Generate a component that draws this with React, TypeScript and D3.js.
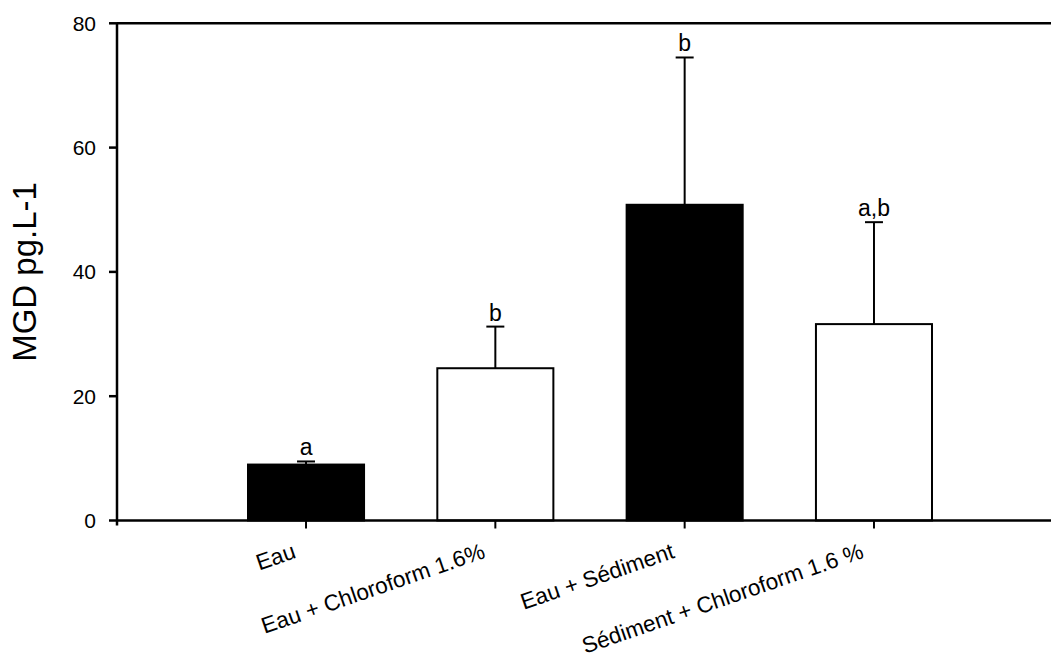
import React from "react";
import * as d3 from "d3";

const categories = ["Eau", "Eau + Chloroform 1.6%", "Eau + Sédiment", "Sédiment + Chloroform 1.6 %"];
const means = [9.0, 24.5, 50.8, 31.6];
const errors = [0.5, 6.7, 23.7, 16.4];
const fills = ["#000", "#fff", "#000", "#fff"];
const letters = ["a", "b", "b", "a,b"];
const yTicks = [0, 20, 40, 60, 80];
const yLabel = "MGD pg.L-1";

const W = 1051;
const H = 662;
const FONT = "Arial, 'Liberation Sans', Helvetica, sans-serif";

export default function App() {
  const x = d3.scaleBand<string>().domain(categories).range([117, 1063]).paddingInner(0.387).paddingOuter(0.692);
  const y = d3.scaleLinear().domain([0, 80]).range([520.5, 23.3]);
  const bw = x.bandwidth();
  const x0 = 117;
  const y0 = y(0);
  const capW = 18;
  return (
    <svg width={W} height={H} style={{ position: "absolute", left: 0, top: 0, background: "#fff" }} fontFamily={FONT}>
      <rect x={0} y={0} width={W} height={H} fill="#fff" />
      {categories.map((c, i) => {
        const bx = x(c)!;
        const cx = bx + bw / 2;
        const top = y(means[i]);
        const et = y(means[i] + errors[i]);
        return (
          <g key={c}>
            <rect x={bx} y={top} width={bw} height={y0 - top} fill={fills[i]} stroke="#000" strokeWidth={2} />
            <line x1={cx} x2={cx} y1={top} y2={et} stroke="#000" strokeWidth={2} />
            <line x1={cx - capW / 2} x2={cx + capW / 2} y1={et} y2={et} stroke="#000" strokeWidth={2} />
            <text x={cx} y={et - 6} textAnchor="middle" fontSize={23} fill="#000">{letters[i]}</text>
            <line x1={cx} x2={cx} y1={y0} y2={y0 + 8} stroke="#000" strokeWidth={2} />
            <text transform={`translate(${cx - 9},${y0 + 37}) rotate(-19)`} textAnchor="end" fontSize={22.5} fill="#000">{c}</text>
          </g>
        );
      })}
      {/* axes */}
      <line x1={x0} x2={W} y1={y0} y2={y0} stroke="#000" strokeWidth={2.5} />
      <line x1={x0} x2={W} y1={y(80)} y2={y(80)} stroke="#000" strokeWidth={2.5} />
      <line x1={x0} x2={x0} y1={y(80)} y2={y0 + 5} stroke="#000" strokeWidth={2.5} />
      {yTicks.map((t) => (
        <g key={t}>
          <line x1={x0 - 8} x2={x0} y1={y(t)} y2={y(t)} stroke="#000" strokeWidth={2.5} />
          <text x={96} y={y(t)} dy="0.36em" textAnchor="end" fontSize={21} fill="#000">{t}</text>
        </g>
      ))}
      <text transform={`translate(36,272) rotate(-90)`} textAnchor="middle" fontSize={33} fill="#000">{yLabel}</text>
    </svg>
  );
}
